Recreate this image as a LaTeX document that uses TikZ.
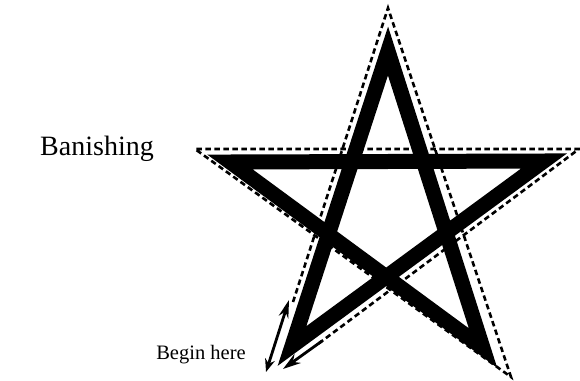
\documentclass[tikz,border=0pt]{standalone}
\usepackage{fontspec}
\setmainfont{Liberation Serif}
\usetikzlibrary{arrows.meta}
\begin{document}
\begin{tikzpicture}[x=1pt,y=-1pt,
  starline/.style={line width=15pt,line join=miter,miter limit=10},
  outline/.style={line width=2.6pt,dash pattern=on 5.5pt off 3.5pt},
  guide/.style={line width=2.8pt,-{Stealth[length=18pt,width=11pt]}},
  lbl/.style={inner sep=0pt,font=\fontsize{20.5}{20.5}\selectfont}]
\useasboundingbox (0,0) rectangle (580,380);
% centre line of the thick star
\coordinate (T) at (388,51);
\coordinate (L) at (230,162);
\coordinate (R) at (544,161);
\coordinate (BR) at (483,348);
\coordinate (BL) at (292,346);
\draw[starline] (BL) -- (T) -- (BR) -- (L) -- (R) -- cycle;
% dashed tracing path
\coordinate (s) at (293,302);
\coordinate (dT) at (388,8);
\coordinate (dBR) at (511,377);
\coordinate (dL) at (195,149);
\coordinate (dR) at (579,149);
\coordinate (e) at (318,344);
\draw[outline] (s) -- (dT) -- (dBR) -- (dL) -- (dR) -- (e);
% arrows
\coordinate (a1) at (266,372);
\coordinate (a2) at (289,300);
\draw[guide,{Stealth[length=13pt,width=10pt]}-{Stealth[length=18pt,width=10pt,open,line width=2.2pt]}] (a1) -- (a2);
\coordinate (b1) at (322,341);
\coordinate (b2) at (283,369);
\draw[guide] (b1) -- (b2);
% labels
\node[lbl,font=\fontsize{28}{28}\selectfont] (ban) at (97,149) {Banishing};
\node[lbl] (beg) at (201,355) {Begin here};
\end{tikzpicture}
\end{document}
